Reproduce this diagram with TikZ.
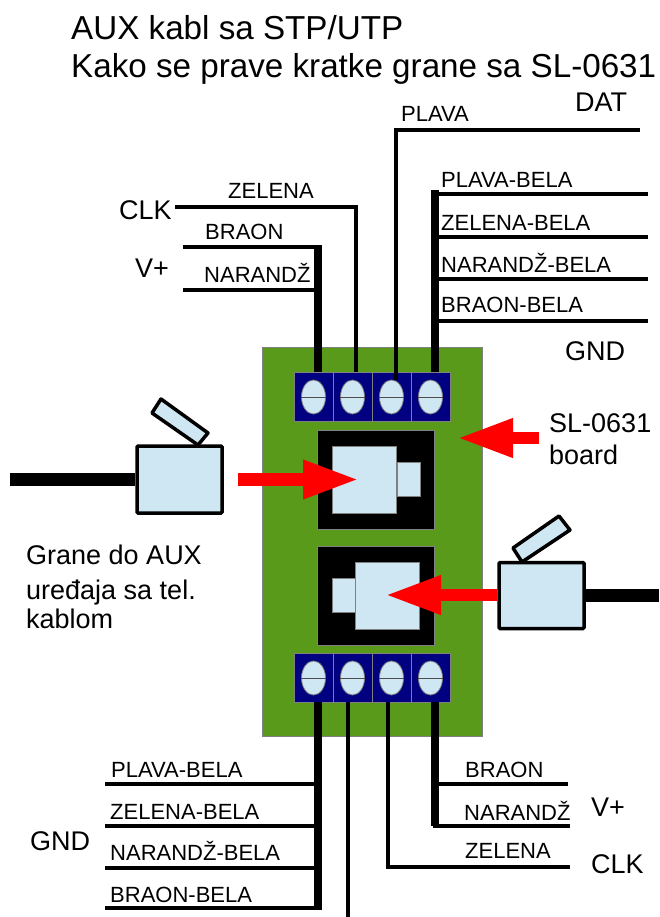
\documentclass[tikz,border=0pt]{standalone}
\usepackage{fontspec}
\setmainfont{Liberation Sans}
\usetikzlibrary{arrows.meta,shapes.geometric}

\definecolor{boardgreen}{HTML}{5A9A1A}
\definecolor{termblue}{HTML}{000080}
\definecolor{plugblue}{HTML}{CFE6F3}
\definecolor{rimgray}{HTML}{808080}

\tikzset{
    wire/.style={line width=3.8pt,line join=miter},
    bigwire/.style={line width=8pt},
    cable/.style={line width=12.5pt},
    titletxt/.style={anchor=base west,inner sep=0pt,font=\fontsize{33.2}{33.2}\selectfont},
    bigtxt/.style={anchor=base west,inner sep=0pt,font=\fontsize{27}{27}\selectfont},
    smalltxt/.style={anchor=base west,inner sep=0pt,font=\fontsize{22}{22}\selectfont},
    terminal/.style={draw=rimgray,fill=termblue,line width=0.8pt,minimum width=39pt,minimum height=49pt,inner sep=0pt},
    screw/.style={draw=rimgray,fill=plugblue,ellipse,line width=0.8pt,minimum width=24pt,minimum height=34pt,inner sep=0pt},
    socket/.style={draw=rimgray,fill=black,line width=0.8pt,minimum width=117pt,minimum height=99pt,inner sep=0pt},
    plugpart/.style={draw=rimgray,fill=plugblue,line width=0.8pt,inner sep=0pt},
    plugbox/.style={draw=black,fill=plugblue,line width=3.5pt,rounded corners=1pt,minimum width=85pt,inner sep=0pt},
    latch/.style={draw=black,fill=plugblue,line width=3.5pt,line join=round},
    redarrow/.style={red,line width=12.5pt,-{Triangle[length=56pt,width=36pt]}}
}

\begin{document}
\begin{tikzpicture}[x=1pt,y=-1pt]
    \useasboundingbox (0,0) rectangle (659,917);

    % board
    \node[draw=rimgray,fill=boardgreen,line width=0.8pt,minimum width=220pt,minimum height=389pt,inner sep=0pt] (board) at (372,541.5) {};

    % terminals
    \foreach \n/\xx in {1/313.5,2/352.5,3/391.5,4/430.5} {
        \node[terminal] (ttop\n) at (\xx,396.5) {};
        \node[terminal] (tbot\n) at (\xx,677.5) {};
    }

    % wires, top
    \coordinate (gndwire) at (435,190);
    \coordinate (datend) at (640,130);
    \coordinate (clkend) at (175,207);
    \coordinate (braonend) at (183,247);
    \coordinate (narend) at (183,290);
    \coordinate (pbend) at (648,194);
    \coordinate (zbend) at (648,237);
    \coordinate (nbend) at (648,279);
    \coordinate (bbend) at (648,321);
    \draw[bigwire] ([xshift=4pt]ttop1.north) -- ++(0,-127);
    \draw[wire] (clkend) -| ([xshift=3.5pt]ttop2.north);
    \draw[wire] (datend) -| ([xshift=4.5pt,yshift=-8pt]ttop3.north);
    \draw[bigwire] ([xshift=4.5pt]ttop4.north) -- (gndwire);
    \draw[wire] (braonend) -- ++(136,0);
    \draw[wire] (narend) -- ++(136,0);
    \draw[wire] (pbend) -- ++(-213,0);
    \draw[wire] (zbend) -- ++(-213,0);
    \draw[wire] (nbend) -- ++(-213,0);
    \draw[wire] (bbend) -- ++(-213,0);

    % wires, bottom
    \coordinate (gnd1end) at (105,784);
    \coordinate (gnd2end) at (105,826);
    \coordinate (gnd3end) at (105,868);
    \coordinate (gnd4end) at (105,908);
    \coordinate (datbot) at (348,917);
    \coordinate (clkbot) at (570,867);
    \coordinate (braonbot) at (568,784);
    \coordinate (narbot) at (570,826);
    \draw[bigwire] ([xshift=4pt]tbot1.south) -- ++(0,208);
    \draw[wire] ([xshift=-4.5pt]tbot2.south) -- (datbot);
    \draw[wire] (clkbot) -| ([xshift=-3.5pt]tbot3.south);
    \draw[bigwire] ([xshift=4.5pt]tbot4.south) -- ++(0,124);
    \draw[wire] (gnd1end) -- ++(212,0);
    \draw[wire] (gnd2end) -- ++(212,0);
    \draw[wire] (gnd3end) -- ++(212,0);
    \draw[wire] (gnd4end) -- ++(212,0);
    \draw[wire] (braonbot) -- ++(-133,0);
    \draw[wire] (narbot) -- ++(-137,0);

    % screws
    \foreach \n/\xx in {1/313.5,2/352.5,3/391.5,4/430.5} {
        \node[screw] (stop\n) at (\xx,397) {};
        \draw[rimgray!60!black,line width=1pt] (stop\n.west) -- (stop\n.east);
        \node[screw] (sbot\n) at (\xx,678) {};
        \draw[rimgray!60!black,line width=1pt] (sbot\n.west) -- (sbot\n.east);
    }

    % sockets with the plugs in them
    \node[socket] (socktop) at (376,479.5) {};
    \node[plugpart,minimum width=63.5pt,minimum height=67pt] (jacktop) at (364.5,479.5) {};
    \node[plugpart,minimum width=23pt,minimum height=33.5pt,anchor=west] (nosetop) at (jacktop.east) {};
    \node[socket] (sockbot) at (376,595.5) {};
    \node[plugpart,minimum width=63.5pt,minimum height=67pt] (jackbot) at (387.5,595.5) {};
    \node[plugpart,minimum width=23pt,minimum height=33.5pt,anchor=east] (nosebot) at (jackbot.west) {};

    % loose plugs
    \coordinate (cableleft) at (10,479.5);
    \coordinate (cableright) at (659,595.5);
    \node[plugbox,minimum height=67pt] (plugleft) at (179.5,479.5) {};
    \node[plugbox,minimum height=66pt] (plugright) at (541.5,595.5) {};
    \draw[cable] (cableleft) -- (plugleft.west);
    \draw[cable] (cableright) -- (plugright.east);
    \draw[latch] (161,399) -- (208,433) -- (198,445) -- (152,413) -- cycle;
    \draw[latch] (559,516) -- (570,530) -- (522,562) -- (513,548) -- cycle;

    % red arrows
    \coordinate (arrowa) at (238,479.5);
    \coordinate (arrowb) at (359,479.5);
    \coordinate (arrowc) at (497,595);
    \coordinate (arrowd) at (385,595);
    \coordinate (arrowe) at (539,438);
    \coordinate (arrowf) at (457,438);
    \draw[redarrow] (arrowa) -- (arrowb);
    \draw[redarrow] (arrowc) -- (arrowd);
    \draw[redarrow] (arrowe) -- (arrowf);

    % texts
    \node[titletxt] (title1) at (71,40) {AUX kabl sa STP/UTP};
    \node[titletxt] (title2) at (71,78) {Kako se prave kratke grane sa SL-0631};
    \node[bigtxt] (dat) at (575,112) {DAT};
    \node[bigtxt] (gnda) at (565,360) {GND};
    \node[bigtxt] (clka) at (119,220) {CLK};
    \node[bigtxt] (vplusa) at (135,277) {V+};
    \node[bigtxt] (slname) at (549,432) {SL-0631};
    \node[bigtxt] (slboard) at (549,464) {board};
    \node[bigtxt] (grane1) at (26,564) {Grane do AUX};
    \node[bigtxt] (grane2) at (26,599) {uređaja sa tel.};
    \node[bigtxt] (grane3) at (26,628) {kablom};
    \node[bigtxt] (gndb) at (30,850) {GND};
    \node[bigtxt] (vplusb) at (591,816) {V+};
    \node[bigtxt] (clkb) at (591,873) {CLK};

    \node[smalltxt] (plavatop) at (401,122) {PLAVA};
    \node[smalltxt] (pbtop) at (441,188) {PLAVA-BELA};
    \node[smalltxt] (zbtop) at (441,230) {ZELENA-BELA};
    \node[smalltxt] (nbtop) at (441,272) {NARANDŽ-BELA};
    \node[smalltxt] (bbtop) at (441,312) {BRAON-BELA};
    \node[smalltxt] (zelenatop) at (228,199) {ZELENA};
    \node[smalltxt] (braontop) at (205,240) {BRAON};
    \node[smalltxt] (nartop) at (204,282) {NARANDŽ};
    \node[smalltxt] (pbbot) at (111,777) {PLAVA-BELA};
    \node[smalltxt] (zbbot) at (110,819) {ZELENA-BELA};
    \node[smalltxt] (nbbot) at (110,860) {NARANDŽ-BELA};
    \node[smalltxt] (bbbot) at (110,902) {BRAON-BELA};
    \node[smalltxt] (braonlow) at (465,777) {BRAON};
    \node[smalltxt] (narlow) at (464,820) {NARANDŽ};
    \node[smalltxt] (zelenalow) at (465,858) {ZELENA};
\end{tikzpicture}
\end{document}
